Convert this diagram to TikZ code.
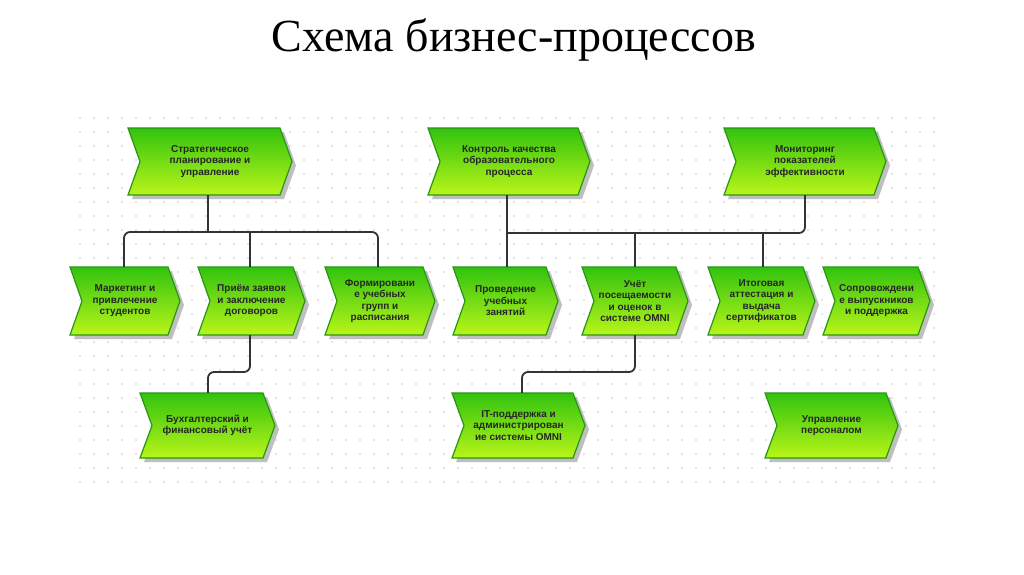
\documentclass[tikz,border=0pt]{standalone}
\usepackage{fontspec}
\setmainfont{Liberation Serif}
\newfontfamily\lab{Liberation Sans}
\usetikzlibrary{calc}
\definecolor{edgeg}{RGB}{40,150,20}
\definecolor{topg}{RGB}{50,195,15}
\definecolor{botg}{RGB}{185,245,25}
\tikzset{
  box/.style={inner sep=0pt,font=\lab\bfseries\fontsize{10}{11.5}\selectfont,align=center,text=black!85},
  link/.style={draw=black!80,line width=1.8pt,rounded corners=6pt}
}
\newcommand\chev[6]{% name x1 y1 x2 y2 text
  \fill[black!25] (#2+4,#3+4) -- (#4-8,#3+4) -- (#4+4,#3/2+#5/2+4) -- (#4-8,#5+4) -- (#2+4,#5+4) -- (#2+16,#3/2+#5/2+4) -- cycle;
  \shade[top color=topg,bottom color=botg,draw=edgeg,line width=1.2pt]
    (#2,#3) -- (#4-12,#3) -- (#4,#3/2+#5/2) -- (#4-12,#5) -- (#2,#5) -- (#2+12,#3/2+#5/2) -- cycle;
  \node[box,minimum width={#4-#2},minimum height={#5-#3}] (#1) at ({(#2+#4)/2},{(#3+#5)/2}) {#6};
}
\begin{document}
\begin{tikzpicture}[x=1pt,y=-1pt]
\useasboundingbox (0,0) rectangle (1024,574);
\fill[white] (0,0) rectangle (1024,574);
\node at (514,40) {\fontsize{46}{52}\selectfont Схема бизнес-процессов};
\foreach \i in {0,...,61}{\foreach \j in {0,...,26}{\fill[black!45] (80+\i*14,118+\j*14) circle (0.7);}}
\chev{t1}{128}{128}{292}{195}{Стратегическое\\планирование и\\управление}
\chev{t2}{428}{128}{590}{195}{Контроль качества\\образовательного\\процесса}
\chev{t3}{724}{128}{886}{195}{Мониторинг\\показателей\\эффективности}
\chev{m1}{70}{267}{180}{335}{Маркетинг и\\привлечение\\студентов}
\chev{m2}{198}{267}{305}{335}{Приём заявок\\и заключение\\договоров}
\chev{m3}{325}{267}{435}{335}{Формировани\\е учебных\\групп и\\расписания}
\chev{m4}{453}{267}{558}{335}{Проведение\\учебных\\занятий}
\chev{m5}{582}{267}{688}{335}{Учёт\\посещаемости\\и оценок в\\системе OMNI}
\chev{m6}{708}{267}{815}{335}{Итоговая\\аттестация и\\выдача\\сертификатов}
\chev{m7}{823}{267}{930}{335}{Сопровождени\\е выпускников\\и поддержка}
\chev{b1}{140}{393}{275}{458}{Бухгалтерский и\\финансовый учёт}
\chev{b2}{452}{393}{585}{458}{IT-поддержка и\\администрирован\\ие системы OMNI}
\chev{b3}{765}{393}{898}{458}{Управление\\персоналом}
\draw[link] (t1.south -| 208,0) -- (208,232);
\draw[link] (m1.north -| 124,0) |- (378,232) -- (m3.north -| 378,0);
\draw[link] (250,232) -- (m2.north -| 250,0);
\draw[link] (t2.south -| 507,0) -- (m4.north -| 507,0);
\draw[link] (507,233) -| (t3.south -| 805,0);
\draw[link] (635,233) -- (m5.north -| 635,0);
\draw[link] (763,233) -- (m6.north -| 763,0);
\draw[link] (m2.south -| 250,0) |- (208,372) -- (b1.north -| 208,0);
\draw[link] (m5.south -| 635,0) |- (522,372) -- (b2.north -| 522,0);
\end{tikzpicture}
\end{document}
